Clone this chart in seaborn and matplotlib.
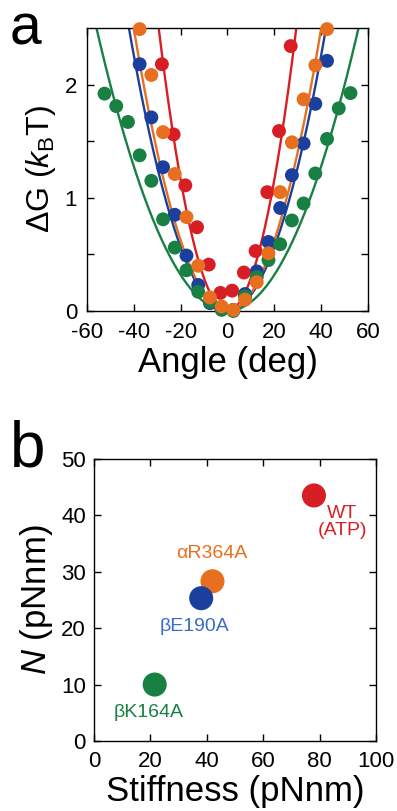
import numpy as np
import pandas as pd
import matplotlib
matplotlib.use("Agg")
import matplotlib.pyplot as plt
import seaborn as sns

# ---------------- data ----------------
mutants = ["WT (ATP)", "αR364A", "βE190A", "βK164A"]
colors = ["#d81e25", "#e86f1f", "#1b3f9c", "#188042"]
text_colors = ["#d81e25", "#e86f1f", "#3a6cc4", "#188042"]
stiffness = [78, 42, 38, 21.5]   # pN nm
torque_N = [43.5, 28.3, 25.3, 10.0]  # pN nm

red_angle = [-28, -23, -18, -13, -8, -3, 2, 7, 12, 17, 22, 27]
red_G = [2.18, 1.56, 1.11, 0.74, 0.41, 0.16, 0.18, 0.34, 0.53, 1.05, 1.59, 2.34]

orange_angle = [-37.5, -32.5, -27.5, -22.5, -17.5, -12.5, -7.5, -2.5, 2.5,
                7.5, 12.5, 17.5, 22.5, 27.5, 32.5, 37.5, 42.5]
orange_G = [2.49, 2.085, 1.58, 1.21, 0.83, 0.40, 0.12, 0.04, 0.01,
            0.10, 0.255, 0.51, 1.05, 1.49, 1.87, 2.17, 2.49]

blue_angle = [-37.5, -32.5, -27.5, -22.5, -17.5, -12.5, -7.5, -2.5, 2.5,
              7.5, 12.5, 17.5, 22.5, 27.5, 32.5, 37.5, 42.5]
blue_G = [2.18, 1.71, 1.27, 0.85, 0.49, 0.23, 0.07, 0.02, 0.01,
          0.15, 0.35, 0.61, 0.91, 1.20, 1.48, 1.83, 2.21]

green_angle = [-52.5, -47.5, -42.5, -37.5, -32.5, -27.5, -22.5, -17.5, -12.5,
               -7.5, -2.5, 2.5, 7.5, 12.5, 17.5, 22.5, 27.5, 32.5, 37.5,
               42.5, 47.5, 52.5]
green_G = [1.92, 1.81, 1.67, 1.375, 1.15, 0.81, 0.56, 0.36, 0.17,
           0.08, 0.01, 0.0, 0.13, 0.30, 0.45, 0.59, 0.80, 0.95, 1.215,
           1.52, 1.79, 1.925]

kBT = 4.1  # pN nm

# ---------------- style ----------------
sns.set_style("ticks")
plt.rcParams["font.family"] = ["Liberation Sans", "DejaVu Sans"]
plt.rcParams["mathtext.fontset"] = "custom"
plt.rcParams["mathtext.rm"] = "Liberation Sans"
plt.rcParams["mathtext.it"] = "Liberation Sans:italic"
plt.rcParams["axes.unicode_minus"] = False
plt.rcParams["axes.linewidth"] = 1.0
plt.rcParams["axes.edgecolor"] = "black"
plt.rcParams["text.color"] = "black"
plt.rcParams["axes.labelcolor"] = "black"
plt.rcParams["xtick.color"] = "black"
plt.rcParams["ytick.color"] = "black"

fig = plt.figure(figsize=(3.97, 8.11), dpi=100)
axa = fig.add_axes([0.219, 0.6165, 0.708, 0.349])
axb = fig.add_axes([0.237, 0.0863, 0.710, 0.348])

# ---------------- panel a ----------------
series = [
    ("βE190A", blue_angle, blue_G, colors[2], stiffness[2]),
    ("βK164A", green_angle, green_G, colors[3], stiffness[3]),
    ("WT (ATP)", red_angle, red_G, colors[0], stiffness[0]),
    ("αR364A", orange_angle, orange_G, colors[1], stiffness[1]),
]
theta = np.linspace(-60, 60, 601)
for name, ang, G, c, k in series:
    fit = 0.5 * k * np.deg2rad(theta) ** 2 / kBT
    mask = fit <= 2.6
    sns.lineplot(x=theta[mask], y=fit[mask], ax=axa, color=c, lw=1.7, zorder=2)
for name, ang, G, c, k in series:
    df = pd.DataFrame({"angle": ang, "G": G})
    sns.scatterplot(data=df, x="angle", y="G", ax=axa, color=c, s=100,
                    edgecolor="none", linewidth=0, zorder=3, clip_on=False)

axa.set_xlim(-60, 60)
axa.set_ylim(0, 2.5)
axa.set_xticks(np.arange(-60, 61, 20))
axa.set_yticks([0, 1, 2])
axa.set_yticks([0.5, 1.5], minor=True)
axa.tick_params(which="both", direction="in", top=True, right=True,
                length=5, width=1.0, labelsize=16)
axa.tick_params(axis="x", pad=8)
axa.tick_params(axis="y", pad=7)
axa.set_xlabel("Angle (deg)", fontsize=25, labelpad=2)
axa.set_ylabel(r"ΔG ($\mathit{k}_\mathrm{B}$T)", fontsize=23, labelpad=5)
fig.text(0.025, 0.945, "a", fontsize=41, va="baseline", ha="left")

# ---------------- panel b ----------------
dfb = pd.DataFrame({"stiffness": stiffness, "N": torque_N, "mutant": mutants})
sns.scatterplot(data=dfb, x="stiffness", y="N", hue="mutant",
                palette=dict(zip(mutants, colors)), s=300, edgecolor="none",
                linewidth=0, legend=False, ax=axb, zorder=3)
label_text = ["WT\n(ATP)", "αR364A", "βE190A", "βK164A"]
label_pos = [(88, 38.8), (41.8, 33.3), (35.8, 20.2), (19.5, 5.1)]
for t, (lx, ly), c in zip(label_text, label_pos, text_colors):
    axb.text(lx, ly, t, color=c, fontsize=14, ha="center", va="center",
             linespacing=1.0)

axb.set_xlim(0, 100)
axb.set_ylim(0, 50)
axb.set_xticks(np.arange(0, 101, 20))
axb.set_yticks(np.arange(0, 51, 10))
axb.tick_params(which="both", direction="in", top=True, right=True,
                length=5, width=1.0, labelsize=16)
axb.tick_params(axis="x", pad=7)
axb.tick_params(axis="y", pad=6)
axb.set_xlabel("Stiffness (pNnm)", fontsize=25, labelpad=2)
axb.set_ylabel(r"$\mathit{N}$ (pNnm)", fontsize=25, labelpad=4)
fig.text(0.025, 0.4242, "b", fontsize=46, va="baseline", ha="left")

fig.savefig("out.png", dpi=100)
